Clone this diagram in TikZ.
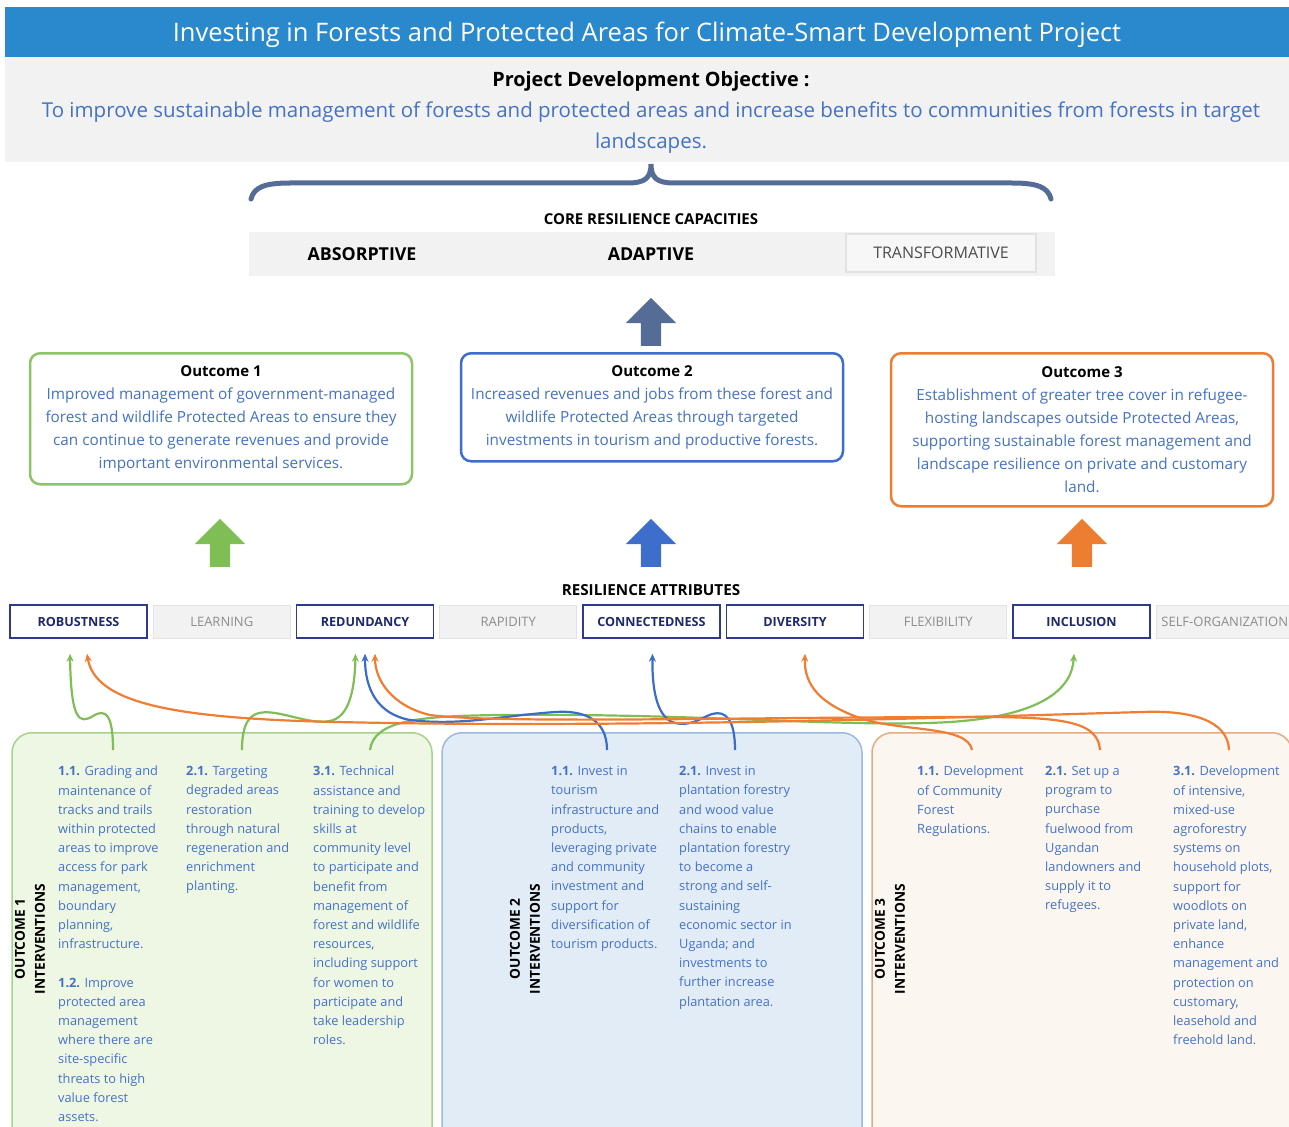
\documentclass[tikz,border=0pt]{standalone}
\usepackage{fontspec}
\setmainfont{Open Sans}
\usetikzlibrary{positioning,shapes.arrows,arrows.meta}

\definecolor{barblue}{RGB}{42,137,204}
\definecolor{bandgrey}{RGB}{242,242,242}
\definecolor{txtblue}{RGB}{68,114,196}
\definecolor{slate}{RGB}{84,108,150}
\definecolor{okgreen}{RGB}{141,196,105}
\definecolor{okblue}{RGB}{61,110,204}
\definecolor{okorange}{RGB}{237,125,49}
\definecolor{navy}{RGB}{47,58,140}
\definecolor{navytext}{RGB}{31,41,107}
\definecolor{offgrey}{RGB}{140,140,140}
\definecolor{offline}{RGB}{226,226,226}
\definecolor{greenfill}{RGB}{238,246,228}
\definecolor{greenline}{RGB}{169,209,142}
\definecolor{bluefill}{RGB}{226,236,247}
\definecolor{blueline}{RGB}{157,185,224}
\definecolor{orangefill}{RGB}{252,246,240}
\definecolor{orangeline}{RGB}{230,170,130}
\definecolor{linkgreen}{RGB}{126,190,85}
\definecolor{linkblue}{RGB}{58,108,200}
\definecolor{linkorange}{RGB}{240,125,50}

\begin{document}
\begin{tikzpicture}[
      x=1pt, y=-1pt,
      every node/.style={inner sep=0pt},
      outcome/.style={
        draw,
        rounded corners=10pt,
        line width=2.5pt,
        fill=white,
        minimum width=382pt,
        anchor=north,
        align=center,
        text=txtblue,
        font=\fontsize{15.3}{23}\selectfont
      },
      attr/.style={
        draw=navy,
        line width=1.5pt,
        fill=white,
        minimum width=137pt,
        minimum height=33pt,
        text=navytext,
        font=\fontsize{12.6}{14}\selectfont\bfseries
      },
      attroff/.style={
        draw=offline,
        line width=1pt,
        fill=bandgrey,
        minimum width=137pt,
        minimum height=33pt,
        text=offgrey,
        font=\fontsize{13}{14}\selectfont
      },
      intbox/.style={
        draw,
        rounded corners=20pt,
        line width=1.5pt,
        minimum width=420pt,
        minimum height=440pt,
        anchor=north
      },
      sidelabel/.style={
        rotate=90,
        align=center,
        font=\fontsize{13.7}{20}\selectfont\bfseries
      },
      column/.style={
        anchor=north west,
        align=left,
        text=txtblue,
        font=\fontsize{12.8}{19.2}\selectfont
      },
      bigarrow/.style={
        single arrow,
        shape border rotate=90,
        inner sep=10pt,
        minimum height=48pt,
        minimum width=50pt,
        single arrow head extend=15pt,
        draw=none
      },
      link/.style={
        line width=2.2pt,
        -{Stealth[length=8pt,width=7pt]}
      }
    ]
    \useasboundingbox (0,0) rectangle (1289,1126);
    \clip (0,0) rectangle (1289,1126);

    % header and objective
    \node[fill=barblue, minimum width=1284pt, minimum height=50pt,
      text=white, font=\fontsize{25.5}{28}\selectfont]
      (Title) at (647,32)
      {\raisebox{-3pt}[\height][\depth]{Investing in Forests and Protected Areas for Climate-Smart Development Project}};
    \node[fill=bandgrey, minimum width=1284pt, minimum height=105pt,
      below=0pt of Title]
      (Band) {};
    \node[font=\fontsize{19.8}{22}\selectfont\bfseries]
      (PDO) at (651,81)
      {Project Development Objective :};
    \node[align=center, text=txtblue, font=\fontsize{20.5}{31}\selectfont]
      (Objective) at (651,128)
      {To improve sustainable management of forests and protected areas and increase benefits to communities from forests in target\\
      landscapes.};

    % brace
    \draw[slate, line width=5pt, line cap=round]
      (251,199) .. controls (254,187) and (265,183) .. (290,183)
      -- (628,183) .. controls (645,183) and (651,178) .. (651,164)
      .. controls (651,178) and (657,183) .. (674,183)
      -- (1012,183) .. controls (1037,183) and (1048,187) .. (1051,199);

    % core capacities
    \node[font=\fontsize{15}{16}\selectfont\bfseries]
      (Core) at (651,219)
      {CORE RESILIENCE CAPACITIES};
    \node[fill=bandgrey, minimum width=806pt, minimum height=44pt]
      (Capacities) at (652,254) {};
    \node[font=\fontsize{17.8}{20}\selectfont\bfseries]
      (Absorptive) at (362,254) {ABSORPTIVE};
    \node[font=\fontsize{17.8}{20}\selectfont\bfseries]
      (Adaptive) at (651,254) {ADAPTIVE};
    \node[draw=offline, line width=1.5pt, fill=bandgrey!60!white,
      minimum width=190pt, minimum height=38pt, text=black!70,
      font=\fontsize{16}{18}\selectfont]
      (Transformative) at (941,253) {TRANSFORMATIVE};
    \node[bigarrow, fill=slate] (UpCore) at (651,327) {};

    % outcomes
    \node[outcome, draw=okgreen, minimum height=131pt]
      (Outcome1) at (221,352)
      {{\color{black}\bfseries\fontsize{15}{23}\selectfont Outcome 1}\\
      Improved management of government-managed\\
      forest and wildlife Protected Areas to ensure they\\
      can continue to generate revenues and provide\\
      important environmental services.};
    \node[outcome, draw=okblue, minimum height=108pt]
      (Outcome2) at (652,352)
      {{\color{black}\bfseries\fontsize{15}{23}\selectfont Outcome 2}\\
      Increased revenues and jobs from these forest and\\
      wildlife Protected Areas through targeted\\
      investments in tourism and productive forests.};
    \node[outcome, draw=okorange, minimum height=153pt]
      (Outcome3) at (1082,352)
      {{\color{black}\bfseries\fontsize{15}{23}\selectfont Outcome 3}\\
      Establishment of greater tree cover in refugee-\\
      hosting landscapes outside Protected Areas,\\
      supporting sustainable forest management and\\
      landscape resilience on private and customary\\
      land.};

    \node[bigarrow, fill=linkgreen] (Up1) at (220,548) {};
    \node[bigarrow, fill=okblue] (Up2) at (651,548) {};
    \node[bigarrow, fill=okorange] (Up3) at (1082,548) {};

    % resilience attributes
    \node[font=\fontsize{15.2}{16}\selectfont\bfseries]
      (Attributes) at (651,590)
      {RESILIENCE ATTRIBUTES};
    \node[attr] (Robustness) at (78.5,621.5) {ROBUSTNESS};
    \node[attroff, right=5pt of Robustness] (Learning) {LEARNING};
    \node[attr, right=5pt of Learning] (Redundancy) {REDUNDANCY};
    \node[attroff, right=5pt of Redundancy] (Rapidity) {RAPIDITY};
    \node[attr, right=5pt of Rapidity] (Connectedness) {CONNECTEDNESS};
    \node[attr, right=5pt of Connectedness] (Diversity) {DIVERSITY};
    \node[attroff, right=5pt of Diversity] (Flexibility) {FLEXIBILITY};
    \node[attr, right=5pt of Flexibility] (Inclusion) {INCLUSION};
    \node[attroff, right=5pt of Inclusion] (SelfOrg) {SELF-ORGANIZATION};

    % interventions
    \node[intbox, fill=greenfill, draw=greenline] (Int1) at (222,732) {};
    \node[intbox, fill=bluefill, draw=blueline] (Int2) at (652,732) {};
    \node[intbox, fill=orangefill, draw=orangeline] (Int3) at (1082,732) {};

    \node[sidelabel] (Side1) at (30,939) {OUTCOME 1\\INTERVENTIONS};
    \node[sidelabel] (Side2) at (525,939) {OUTCOME 2\\INTERVENTIONS};
    \node[sidelabel] (Side3) at (890,939) {OUTCOME 3\\INTERVENTIONS};

    \node[column] (Col11) at (58,766)
      {\textbf{1.1.} Grading and\\ maintenance of\\ tracks and trails\\
      within protected\\ areas to improve\\ access for park\\ management,\\
      boundary\\ planning,\\ infrastructure.\\[19.2pt]
      \textbf{1.2.} Improve\\ protected area\\ management\\ where there are\\
      site-specific\\ threats to high\\ value forest\\ assets.};
    \node[column] (Col12) at (186,766)
      {\textbf{2.1.} Targeting\\ degraded areas\\ restoration\\ through natural\\
      regeneration and\\ enrichment\\ planting.};
    \node[column] (Col13) at (313,766)
      {\textbf{3.1.} Technical\\ assistance and\\ training to develop\\ skills at\\
      community level\\ to participate and\\ benefit from\\ management of\\
      forest and wildlife\\ resources,\\ including support\\ for women to\\
      participate and\\ take leadership\\ roles.};
    \node[column] (Col21) at (551,766)
      {\textbf{1.1.} Invest in\\ tourism\\ infrastructure and\\ products,\\
      leveraging private\\ and community\\ investment and\\ support for\\
      diversification of\\ tourism products.};
    \node[column] (Col22) at (679,766)
      {\textbf{2.1.} Invest in\\ plantation forestry\\ and wood value\\ chains to enable\\
      plantation forestry\\ to become a\\ strong and self-\\ sustaining\\
      economic sector in\\ Uganda; and\\ investments to\\ further increase\\
      plantation area.};
    \node[column] (Col31) at (917,766)
      {\textbf{1.1.} Development\\ of Community\\ Forest\\ Regulations.};
    \node[column] (Col32) at (1045,766)
      {\textbf{2.1.} Set up a\\ program to\\ purchase\\ fuelwood from\\ Ugandan\\
      landowners and\\ supply it to\\ refugees.};
    \node[column] (Col33) at (1173,766)
      {\textbf{3.1.} Development\\ of intensive,\\ mixed-use\\ agroforestry\\
      systems on\\ household plots,\\ support for\\ woodlots on\\ private land,\\
      enhance\\ management and\\ protection on\\ customary,\\ leasehold and\\
      freehold land.};

    % links from interventions to attributes
    \coordinate (From11) at (113,750);
    \coordinate (From12) at (242,750);
    \coordinate (From13) at (370,750);
    \coordinate (From21) at (607,750);
    \coordinate (From22) at (735,750);
    \coordinate (From31) at (972,750);
    \coordinate (From32) at (1100,750);
    \coordinate (From33) at (1229,750);

    \draw[link, linkgreen] (From11)
      .. controls (113,715) and (106,708) .. (93,716)
      .. controls (80,724) and (71,722) .. ([xshift=-8.5pt,yshift=-15pt]Robustness.south);
    \draw[link, linkgreen] (From12)
      .. controls (242,715) and (255,710) .. (275,713)
      .. controls (300,717) and (328,730) .. (342,714)
      .. controls (352,703) and (355,680) .. ([xshift=-9.5pt,yshift=-15pt]Redundancy.south);
    \draw[link, linkgreen] (From13)
      .. controls (374,720) and (420,716) .. (500,715)
      .. controls (700,713) and (850,728) .. (950,722)
      .. controls (1040,716) and (1072,690) .. ([xshift=-7.5pt,yshift=-15pt]Inclusion.south);
    \draw[link, linkblue] (From21)
      .. controls (607,720) and (585,710) .. (555,712)
      .. controls (500,716) and (460,726) .. (410,720)
      .. controls (378,714) and (365,690) .. ([yshift=-15pt]Redundancy.south);
    \draw[link, linkblue] (From22)
      .. controls (735,720) and (726,710) .. (712,714)
      .. controls (700,718) and (690,728) .. (672,722)
      .. controls (657,715) and (652,690) .. ([xshift=1pt,yshift=-15pt]Connectedness.south);
    \draw[link, linkorange] (From31)
      .. controls (968,725) and (900,732) .. (860,718)
      .. controls (820,704) and (804,685) .. ([xshift=10pt,yshift=-15pt]Diversity.south);
    \draw[link, linkorange] (From32)
      .. controls (1098,722) and (1065,717) .. (980,717)
      .. controls (750,717) and (500,724) .. (430,715)
      .. controls (392,706) and (375,680) .. ([xshift=10pt,yshift=-15pt]Redundancy.south);
    \draw[link, linkorange] (From33)
      .. controls (1228,720) and (1190,710) .. (1142,712)
      .. controls (1000,716) and (600,730) .. (300,721)
      .. controls (170,716) and (95,702) .. ([xshift=8.5pt,yshift=-15pt]Robustness.south);
  \end{tikzpicture}
\end{document}
